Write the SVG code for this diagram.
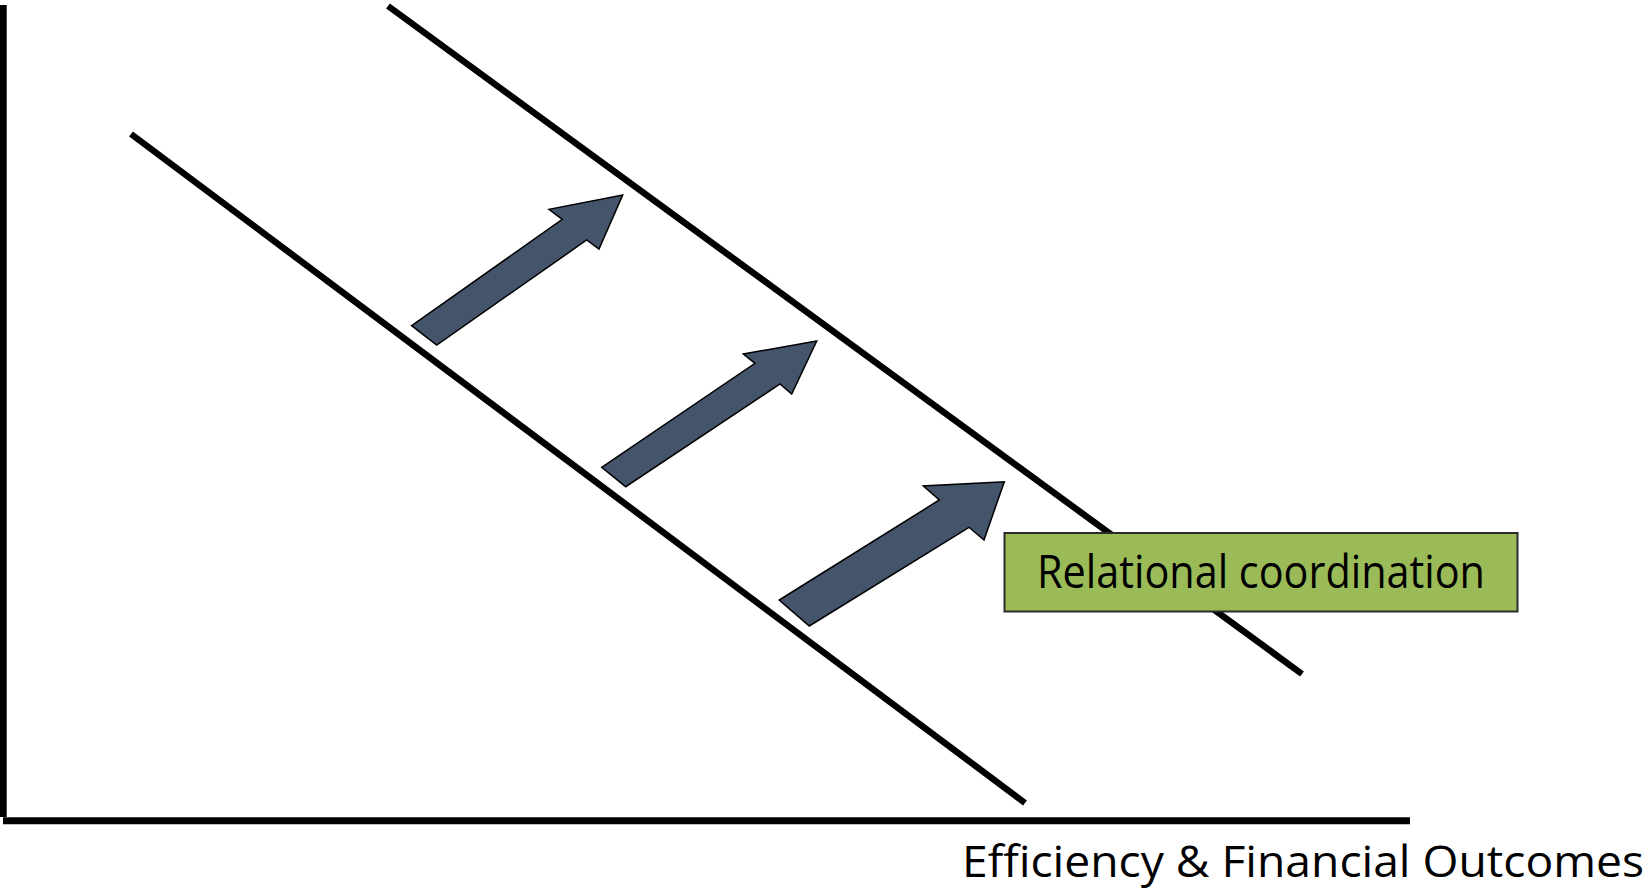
<svg xmlns="http://www.w3.org/2000/svg" width="1650" height="888" viewBox="0 0 1650 888">
  <style>
    .axis { stroke: #000; stroke-width: 7; fill: none; }
    .trend { stroke: #000; stroke-width: 6.5; fill: none; stroke-linecap: butt; }
    .arrow { fill: #44546A; stroke: #000; stroke-width: 1.5; stroke-linejoin: miter; }
    .box { fill: #9BBB59; stroke: #2b2b2b; stroke-width: 2; }
    .lbl { font-family: "Open Sans", "Noto Sans", "Liberation Sans", sans-serif; fill: #000; }
  </style>
  <rect width="1650" height="888" fill="#fff"/>
  <g id="axes">
    <line class="axis" x1="3.2" y1="5" x2="3.2" y2="817" stroke-width="6.5"/>
    <line class="axis" x1="3" y1="820.7" x2="1410" y2="820.7"/>
    <text class="lbl" x="962" y="877" font-size="43" textLength="682" lengthAdjust="spacingAndGlyphs">Efficiency &amp; Financial Outcomes</text>
  </g>
  <g id="connectors">
    <line class="trend" x1="131" y1="134" x2="1025" y2="803"/>
    <line class="trend" x1="388" y1="6" x2="1302" y2="674"/>
  </g>
  <g id="arrow1">
    <polygon class="arrow" points="411.7,325.7 562.3,219.3 549,209.3 622.7,195 599,249 586.7,240 436.7,345"/>
  </g>
  <g id="arrow2">
    <polygon class="arrow" points="601.7,467.3 755,363.3 743.3,354 816.7,341 791.7,394 780,384 625.7,486.7"/>
  </g>
  <g id="arrow3">
    <polygon class="arrow" points="779.3,600 939.3,500 923.3,486 1004.3,481.7 984,540 969,527.3 809.3,626"/>
  </g>
  <g id="relational-coordination">
    <rect class="box" x="1004.5" y="533" width="513" height="78.5"/>
    <text class="lbl" x="1037" y="588" font-size="46" textLength="448" lengthAdjust="spacingAndGlyphs">Relational coordination</text>
  </g>
</svg>
